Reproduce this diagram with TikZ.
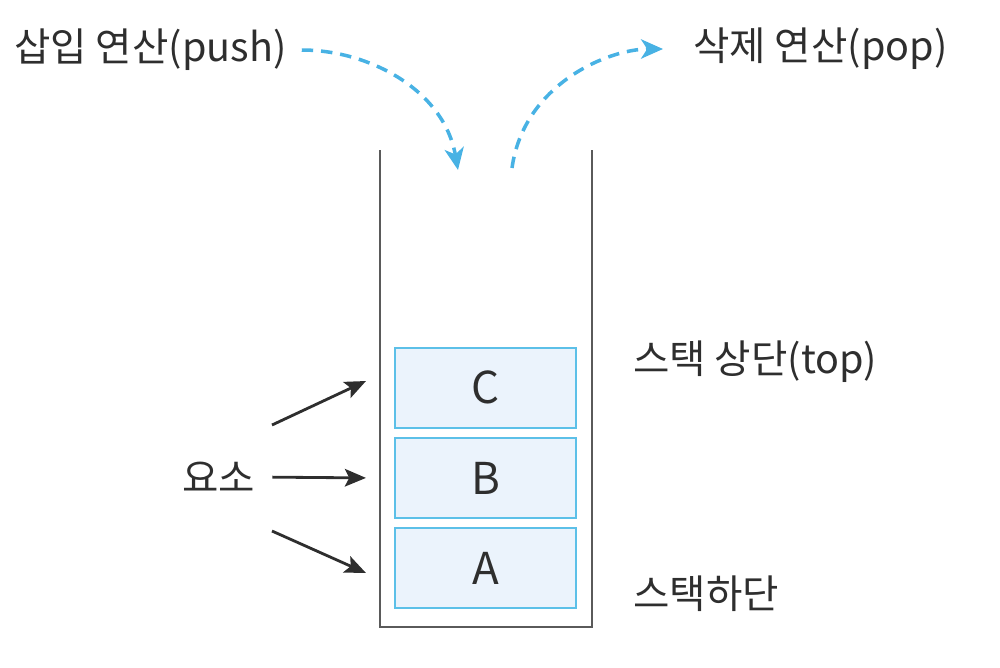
\documentclass[tikz,border=0pt]{standalone}
\usepackage{fontspec}
\setmainfont{Noto Sans CJK KR}
\usepackage{tikz}
\usetikzlibrary{arrows,arrows.meta,positioning}
\definecolor{boxline}{HTML}{5CC0E8}
\definecolor{boxfill}{HTML}{EBF3FC}
\definecolor{opblue}{HTML}{48B2E4}
\definecolor{wallgray}{HTML}{5A5A5A}
\definecolor{txtgray}{HTML}{2E2E2E}

\begin{document}
\begin{tikzpicture}[x=0.02cm,y=-0.02cm,
  elembox/.style={draw=boxline, fill=boxfill, line width=1.2pt,
    minimum width=3.62cm, minimum height=1.6cm, inner sep=0pt,
    text=txtgray, font=\fontsize{25}{28}\selectfont},
  label/.style={inner sep=0pt, text=txtgray, font=\fontsize{22.5}{26}\selectfont},
  elemarrow/.style={txtgray, line width=1.6pt, -{Stealth[length=12pt,width=10pt,inset=2.5pt]}},
  oparrow/.style={opblue, line width=2pt, dash pattern=on 6.5pt off 4.5pt,
    -{Stealth[length=12.5pt,width=11pt,inset=3.5pt]}}]
  \useasboundingbox (0,0) rectangle (1000,667);

  % Stack container
  \draw[wallgray, line width=1.3pt] (380,150) -- (380,627) -- (592,627) -- (592,150);

  % Elements, bottom to top
  \node[elembox] (A) at (485.5,568) {A};
  \node[elembox, above=0.16cm of A] (B) {B};
  \node[elembox, above=0.16cm of B] (C) {C};

  % Labels
  \node[label, anchor=west] (top) at (633,362) {스택 상단(top)};
  \node[label, anchor=west] (bottom) at (633,594) {스택하단};
  \node[label, anchor=west] (yoso) at (182,477) {요소};
  \node[label, anchor=west] (push) at (14,50) {삽입 연산(push)};
  \node[label, anchor=west] (pop) at (693,49) {삭제 연산(pop)};

  % Element arrows
  \coordinate (t1) at (272,425);
  \coordinate (h1) at (366,381);
  \coordinate (t3) at (272,531);
  \coordinate (h3) at (366,573);
  \draw[elemarrow] (t1) -- (h1);
  \draw[elemarrow, shorten <=0.34cm] (yoso.east) -- ([xshift=-0.56cm]B.west);
  \draw[elemarrow] (t3) -- (h3);

  % Push and pop
  \coordinate (pushin) at (458,170);
  \coordinate (popout) at (512,168);
  \draw[oparrow, shorten <=0.3cm] (push.east) to[out=0,in=100] (pushin);
  \draw[oparrow, shorten >=0.6cm] (popout) to[out=82,in=180] (pop.west);
\end{tikzpicture}
\end{document}
